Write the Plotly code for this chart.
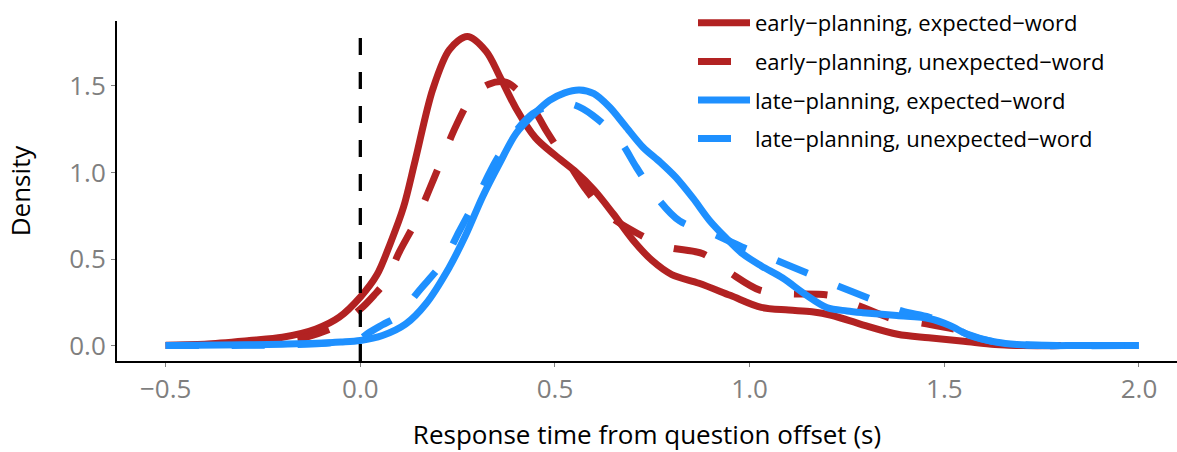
import plotly.graph_objects as go

# ---- data ----
x_early_exp = [-0.5, -0.4, -0.285, -0.2, -0.114, -0.054, 0.0, 0.043, 0.077, 0.111, 0.141, 0.186, 0.229, 0.275,
               0.323, 0.357, 0.40, 0.45, 0.50, 0.55, 0.60, 0.65, 0.70, 0.75, 0.80, 0.87, 0.95, 1.03, 1.10,
               1.16, 1.21, 1.29, 1.38, 1.46, 1.55, 1.63, 1.70, 1.80]
y_early_exp = [0.002, 0.008, 0.029, 0.048, 0.096, 0.164, 0.28, 0.41, 0.59, 0.80, 1.07, 1.48, 1.71, 1.785,
               1.70, 1.56, 1.37, 1.20, 1.10, 1.01, 0.90, 0.76, 0.61, 0.49, 0.41, 0.36, 0.29, 0.22, 0.205,
               0.195, 0.175, 0.12, 0.065, 0.045, 0.025, 0.006, 0.0, 0.0]

x_early_unexp = [-0.5, -0.4, -0.3, -0.2, -0.14, -0.054, 0.0, 0.035, 0.066, 0.10, 0.143, 0.177, 0.212, 0.246,
                 0.288, 0.33, 0.375, 0.435, 0.478, 0.51, 0.53, 0.58, 0.633, 0.71, 0.787, 0.88, 0.95, 1.026,
                 1.10, 1.206, 1.28, 1.365, 1.45, 1.56, 1.62, 1.70, 1.80]
y_early_unexp = [0.0, 0.004, 0.013, 0.03, 0.048, 0.12, 0.21, 0.29, 0.375, 0.54, 0.72, 0.90, 1.09, 1.27,
                 1.44, 1.51, 1.52, 1.40, 1.24, 1.13, 1.07, 0.90, 0.76, 0.65, 0.57, 0.53, 0.42, 0.32,
                 0.30, 0.29, 0.23, 0.156, 0.127, 0.075, 0.017, 0.0, 0.0]

x_late_exp = [-0.5, -0.285, -0.2, -0.114, -0.05, 0.0, 0.057, 0.117, 0.168, 0.228, 0.271, 0.314, 0.357, 0.40,
              0.443, 0.486, 0.525, 0.563, 0.60, 0.64, 0.68, 0.726, 0.77, 0.81, 0.855, 0.897, 0.94, 0.982,
              1.03, 1.085, 1.14, 1.198, 1.25, 1.29, 1.378, 1.463, 1.514, 1.565, 1.635, 1.686, 1.75, 1.85, 2.0]
y_late_exp = [0.0, 0.004, 0.008, 0.013, 0.02, 0.029, 0.058, 0.125, 0.24, 0.45, 0.64, 0.86, 1.05, 1.225,
              1.33, 1.416, 1.46, 1.476, 1.455, 1.378, 1.27, 1.146, 1.06, 0.973, 0.85, 0.723, 0.62, 0.53,
              0.46, 0.39, 0.30, 0.22, 0.20, 0.19, 0.173, 0.155, 0.116, 0.058, 0.019, 0.006, 0.0, 0.0, 0.0]

x_late_unexp = [-0.5, -0.3, -0.2, -0.1, -0.04, 0.0, 0.019, 0.057, 0.096, 0.152, 0.212, 0.254, 0.297, 0.349,
                0.40, 0.443, 0.48, 0.512, 0.55, 0.597, 0.666, 0.709, 0.76, 0.82, 0.906, 0.98, 1.06, 1.146,
                1.22, 1.31, 1.39, 1.46, 1.51, 1.56, 1.63, 1.70, 1.8, 2.0]
y_late_unexp = [0.0, 0.001, 0.004, 0.012, 0.025, 0.04, 0.07, 0.12, 0.17, 0.32, 0.48, 0.66, 0.84, 1.07,
                1.24, 1.34, 1.38, 1.40, 1.39, 1.33, 1.185, 1.03, 0.86, 0.72, 0.646, 0.57, 0.50, 0.42,
                0.35, 0.27, 0.20, 0.165, 0.12, 0.065, 0.02, 0.005, 0.0, 0.0]

series_names = ["early\u2212planning, expected\u2212word",
                "early\u2212planning, unexpected\u2212word",
                "late\u2212planning, expected\u2212word",
                "late\u2212planning, unexpected\u2212word"]

x_tick_vals = [-0.5, 0.0, 0.5, 1.0, 1.5, 2.0]
x_tick_text = ["\u22120.5", "0.0", "0.5", "1.0", "1.5", "2.0"]
y_tick_vals = [0.0, 0.5, 1.0, 1.5]
y_tick_text = ["0.0", "0.5", "1.0", "1.5"]
vline_x = 0.0

# ---- styling ----
RED = "#B22222"
BLUE = "#1E90FF"
GREY = "#7F7F7F"
FONT = "Open Sans"
LW = 7
DASH = "33px,33px"

fig = go.Figure()
specs = [
    (x_early_exp, y_early_exp, RED, "solid"),
    (x_early_unexp, y_early_unexp, RED, DASH),
    (x_late_exp, y_late_exp, BLUE, "solid"),
    (x_late_unexp, y_late_unexp, BLUE, DASH),
]
for i, (xs, ys, col, dash) in enumerate(specs):
    fig.add_trace(go.Scatter(
        x=xs, y=ys, mode="lines", name=series_names[i], legendgroup=f"g{i}",
        line=dict(color=col, width=LW, dash=dash, shape="spline", smoothing=0.9),
        hoverinfo="skip",
    ))

fig.add_shape(type="line", xref="x", yref="paper", x0=vline_x, x1=vline_x, y0=0, y1=1,
              line=dict(color="black", width=3.3, dash="17px,17px"), layer="above")

fig.update_layout(
    width=1177, height=452,
    margin=dict(l=117, r=0, t=21, b=91, autoexpand=False),
    paper_bgcolor="white", plot_bgcolor="white",
    font=dict(family=FONT, color="black"),
    showlegend=True,
    legend=dict(
        xref="container", yref="container",
        x=693 / 1177, y=1 - 2 / 452, xanchor="left", yanchor="top",
        font=dict(size=22, color="black", family=FONT),
        bgcolor="rgba(0,0,0,0)", tracegroupgap=7, itemwidth=52,
    ),
    xaxis=dict(
        range=[-0.625, 2.0977], tickvals=x_tick_vals, ticktext=x_tick_text,
        showgrid=False, zeroline=False, showline=True, linecolor="black", linewidth=2,
        ticks="outside", ticklen=4, tickwidth=1, tickcolor=GREY,
        tickfont=dict(size=26, color=GREY, family=FONT),
        title=dict(text="Response time from question offset (s)", standoff=25,
                   font=dict(size=26, color="black", family=FONT)),
    ),
    yaxis=dict(
        range=[-0.0893, 1.875], tickvals=y_tick_vals, ticktext=y_tick_text,
        showgrid=False, zeroline=False, showline=True, linecolor="black", linewidth=2,
        ticks="outside", ticklen=4, tickwidth=1, tickcolor=GREY,
        tickfont=dict(size=26, color=GREY, family=FONT),
        title=dict(text="Density", standoff=31,
                   font=dict(size=26, color="black", family=FONT)),
    ),
)

fig.write_html("out.html")
